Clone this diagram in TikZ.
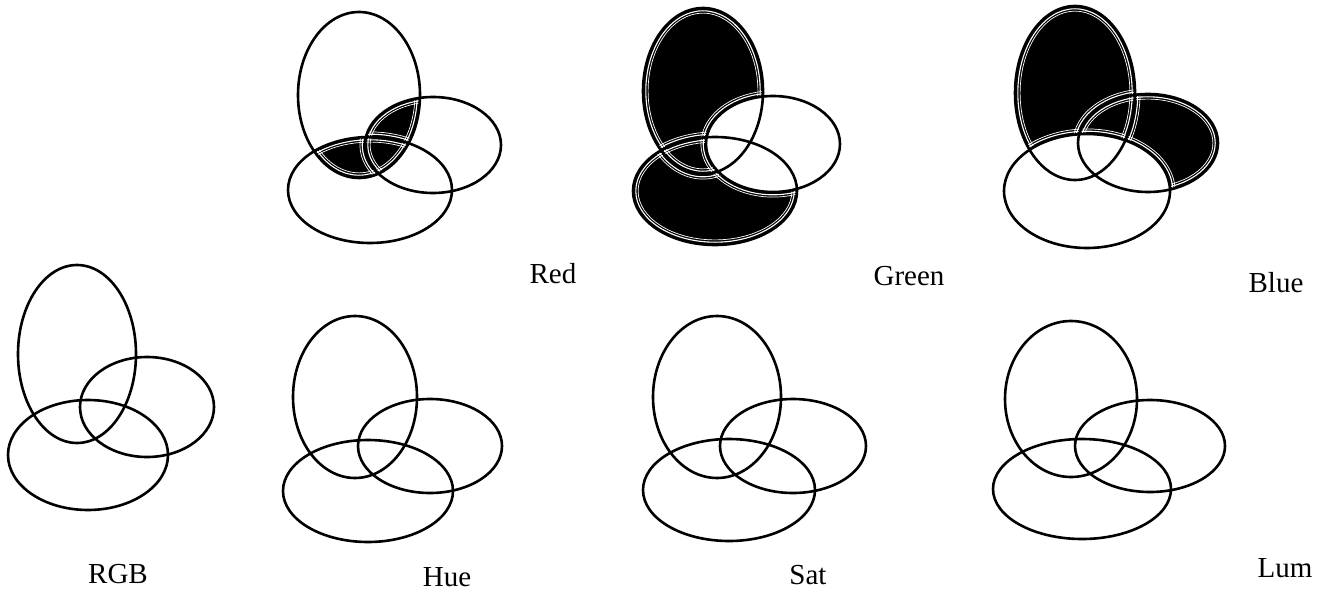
\documentclass[tikz,border=0pt]{standalone}
\usepackage{fontspec}
\setmainfont{Liberation Serif}
\tikzset{
  rim/.style={draw=black,line width=2.6pt},
  inset/.style={draw=white,line width=1.1pt},
  insettwo/.style={draw=white,line width=0.7pt},
  lbl/.style={anchor=base,inner sep=0pt,font=\fontsize{29}{31}\selectfont}
}
% three ovals of one panel, given as a macro holding cx/cy/rx/ry
\newcommand{\ovals}[1]{%
  \foreach \cx/\cy/\rx/\ry in #1
    \draw[rim] (\cx,\cy) ellipse [x radius=\rx, y radius=\ry];}
\newcommand{\insets}[1]{%
  \foreach \cx/\cy/\rx/\ry in #1{
    \foreach \d in {-2.8,2.8}
      \draw[inset] (\cx,\cy) ellipse [x radius=\rx+\d, y radius=\ry+\d];
    \foreach \d in {-5.1,5.1}
      \draw[insettwo] (\cx,\cy) ellipse [x radius=\rx+\d, y radius=\ry+\d];}}

\def\redset{359/95/61/83,433/145/68/48,370/190/82/53}
\def\greenset{703/91/60/83,773/144/67/48,715/191/82/54}
\def\blueset{1075/93/60/87,1148/143/70/49,1087/191/83/57}
\def\rgbset{77/354/59/89,147/407/67/50,88/455/80/55}
\def\hueset{355/397/62/81,430/446/72/47,368/491/85/51}
\def\satset{717/397/64/81,793/446/73/47,729/490/86/51}
\def\lumset{1071/399/66/78,1150/446/75/46,1082/489/89/50}

\begin{document}
\begin{tikzpicture}[x=1pt,y=-1pt]
  \useasboundingbox (0,0) rectangle (1332,591);

  % Red: upright oval inside the other two
  \begin{scope}
    \clip (359,95) ellipse [x radius=61, y radius=83];
    \clip (433,145) ellipse [x radius=68, y radius=48]
          (370,190) ellipse [x radius=82, y radius=53];
    \fill (250,0) rectangle (520,260);
    \insets{\redset}
  \end{scope}
  \ovals{\redset}

  % Green: upright and lower oval, minus the right one
  \begin{scope}[even odd rule]
    \clip (600,-10) rectangle (860,270)
          (773,144) ellipse [x radius=67, y radius=48];
    \begin{scope}[nonzero rule]
      \clip (703,91) ellipse [x radius=60, y radius=83]
            (715,191) ellipse [x radius=82, y radius=54];
      \fill (600,-10) rectangle (860,270);
      \insets{\greenset}
    \end{scope}
  \end{scope}
  \ovals{\greenset}

  % Blue: upright and right oval, minus the lower one
  \begin{scope}[even odd rule]
    \clip (980,-10) rectangle (1240,270)
          (1087,191) ellipse [x radius=83, y radius=57];
    \begin{scope}[nonzero rule]
      \clip (1075,93) ellipse [x radius=60, y radius=87]
            (1148,143) ellipse [x radius=70, y radius=49];
      \fill (980,-10) rectangle (1240,270);
      \insets{\blueset}
    \end{scope}
  \end{scope}
  \ovals{\blueset}

  % bottom row, outlines only
  \ovals{\rgbset}
  \ovals{\hueset}
  \ovals{\satset}
  \ovals{\lumset}

  % labels
  \node[lbl] (red)   at (553,283)  {Red};
  \node[lbl] (green) at (909,285)  {Green};
  \node[lbl] (blue)  at (1276,292) {Blue};
  \node[lbl] (rgb)   at (118,583)  {RGB};
  \node[lbl] (hue)   at (447,586)  {Hue};
  \node[lbl] (sat)   at (808,584)  {Sat};
  \node[lbl] (lum)   at (1285,577) {Lum};
\end{tikzpicture}
\end{document}
